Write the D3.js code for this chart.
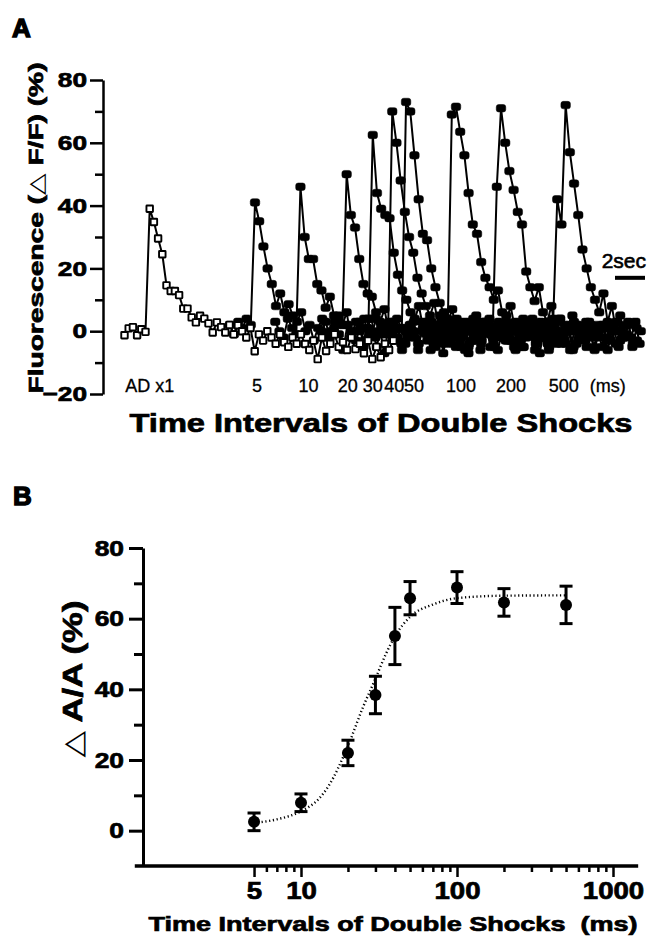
<!DOCTYPE html>
<html>
<head>
<meta charset="utf-8">
<script src="https://cdn.jsdelivr.net/npm/d3@7"></script>
<style>
body { margin: 0; background: #fff; }
text { font-family: "Liberation Sans", Arial, sans-serif; fill: #000; }
.heavy { font-weight: bold; stroke: #000; stroke-width: 0.7px; }
</style>
</head>
<body>
<svg id="chart"></svg>
<script>
// ---- panel A : dF/F traces, one per double shock interval ----
const frameSec = 0.28;
const traceNames = ["AD x1", "5", "10", "20", "30", "40", "50", "100", "200", "500"];
const traceStart = [1.5, 8.52, 11.55, 14.63, 16.37, 17.67, 18.59, 21.64, 24.64, 28.95];

const traceAD = [-1.3, 0.9, 1.3, -1.3, 0.6, -0.2, 39, 34.8, 29.5, 24.5, 14.6, 12.8, 12.8, 11.5, 7.2, 7.2,
  4.4, 2.8, 4.9, 4.0, 2.5, -0.4, 2.8, 1.3, -0.4, 2, -1, 1.9, 0, -2, 1, -6.4, -1, -3, 0, -2, -4, -1,
  -3.5, -5, -2, -4, -1, -4.1, -6, -3, -8.9, -2, -6.3, -4, -1, -5, -3.5, -6, -2, -5.7, -4, -7, -3,
  -8.9, -5, -8.3, -4, -6, -3];
const trace5 = [2, -1, 3, 1, 4, 2, 41, 35, 27, 20, 15, 8, 12, 6, 8.6, 5, 3, 6, 0, 2, -3, 1, 4, -2, 0, 3,
  -1, -6, 2, 0, -3, 1, 4, -2, 0, -5, 2, -1, 3, -3, 1, -6, 0, 2, -2, -4, 1, 3, -1, -5, 0, 2, -3, -1, 4,
  -2, -6, 1, -3, 0];
const trace10 = [3, 0, -2, 4, 1, -1, 46, 30, 23, 23, 15, 13, 7.5, 11, 5, 4, 2, 6, -2, 0, 3, -5, 1, -1, 4,
  0, -7, 2, -2, 1, -4, 0, -2, 3, -4, 0, 1, -6, 2, -1, -3, 4, 0, -5, -2, 1, -7, 2, 0, -3, 3, -1, -4, 1,
  -2, 5, -3, 0, -5, 2];
const trace20 = [0, 3, -2, 1, 5, 2, 50, 37, 33, 23, 15, 12, 11, 6, 3, 7, 0, -3, 4, 1, -4, 2, 0, -6, 3, -1,
  1, -3, 2, -7, 0, 1, 3, -3, 0, -5, 2, -1, -4, 1, 4, -2, -6, 0, 2, -3, 1, -1, -5, 3, 0, -2, -7, 1, -1,
  2, -4, 0];
const trace30 = [2, -1, 3, 0, -3, 4, 62.5, 44, 39, 37, 36, 25, 18, 13, 10, 6, 4, 8, 1, -3, 3, 0, 5, -4, 1,
  -2, 2, -5, 0, 3, -3, 1, -1, 2, -5, 0, 3, -2, -3, 1, -6, 2, 0, -1, 4, -4, 1, -2, -5, 0, 3, -3, 1, -6,
  0, 2, -2, -1];
const trace40 = [1, 4, -2, 0, 2, -1, 70, 60, 48, 38, 30, 25, 17, 12, 8, 5, 9, 2, 0, 4, -4, 1, -2, 3, 0, -3,
  5, -6, 1, 2, -2, 0, 2, -3, 0, -5, 1, 3, -2, -1, -6, 2, 0, -4, 1, -2, 4, -3, 0, -6, 2, -1, -3, 1, -5,
  0, 2, -2];
const trace50 = [-1, 2, 0, 3, -2, 1, 73, 70, 56, 42, 31, 29, 20, 14, 9, 6, 3, 7, -1, 2, 0, -4, 4, 1, -3, 3,
  0, -5, 2, -2, 1, 0, 3, -2, -5, 1, 0, -3, 2, -1, -6, 4, 0, -2, -4, 1, 3, -3, 0, -5, 2, -1, -2, 1, -6,
  0, 3, -3, -1];
const trace100 = [2, 0, -3, 1, 4, -1, 69, 71.5, 63.5, 56, 44, 34, 31, 22, 17, 14, 10, 13, 6, 3, 8, 1, -3, 4,
  0, 2, -4, 1, -2, 3, 0, -3, -4, 2, 0, -5, 1, -2, 3, -1, -6, 0, 2, -3, 1, -4, 0, -2, 3, -5, 1, 0];
const trace200 = [1, -2, 3, 0, 2, -1, 46, 71, 60, 51, 45, 38, 34, 19, 14, 9.6, 14, 6, 3, 8, 0, 4, -3, 2, 5,
  -4, 1, 0, 3, -2, 2, -5, 1, -3, 0, -5, 2, -1, -2, 3, -4];
const trace500 = [0, 3, -2, 1, 2, 42, 34, 72, 57, 47, 37, 26, 20, 14, 10, 6, 12, 3, 8, 0, 5, -2, 2, -4, -3];

const labelNudge = [0, 2, 8, 1, 0, 2, 8, 5, 10, -2];
const yTicksA = [-20, 0, 20, 40, 60, 80];
const yMinorA = [-10, 10, 30, 50, 70];
const scaleBarSec = [34.2, 36.2];

// ---- panel B : peak ratio vs interval ----
const intervals = [5, 10, 20, 30, 40, 50, 100, 200, 500];
const meanResp = [2.5, 7.9, 22.0, 38.4, 55.1, 65.8, 68.8, 64.6, 63.9];
const semResp = [2.5, 2.5, 3.6, 5.3, 8.1, 4.7, 4.5, 3.9, 5.3];
const fitMs = [5, 7, 10, 13, 15, 20, 25, 30, 35, 40, 50, 70, 100, 200, 500];
const fitVal = [2.2, 3.2, 5.5, 9, 12.6, 24, 35, 43, 50, 55, 60.5, 64, 65.8, 66.5, 66.6];
const yTicksB = [0, 20, 40, 60, 80];
const yMinorB = [10, 30, 50, 70];
const xTicksB = [5, 10, 100, 1000];
const xMinorB = [6, 7, 8, 9, 20, 30, 40, 50, 60, 70, 80, 90, 200, 300, 400, 500, 600, 700, 800, 900];

let svg = d3.select("#chart").attr("width", 654).attr("height", 936);

// stretch text horizontally like the scanned figure
function widen(sel, k) {
  sel.each(function () {
    let len = this.getComputedTextLength();
    d3.select(this).attr("textLength", len * k).attr("lengthAdjust", "spacingAndGlyphs");
  });
}

function styleAxis(g, w, size) {
  g.select(".domain").attr("stroke-width", w).attr("stroke", "#000");
  g.selectAll(".tick line").attr("stroke-width", w).attr("stroke", "#000");
  g.selectAll(".tick text").attr("class", "heavy").style("font-size", size + "px")
    .attr("fill", "#000");
}

// ===== A =====
let xA = d3.scaleLinear().domain([0, 36]).range([102, 642]);
let yA = d3.scaleLinear().domain([-20, 80]).range([394, 80]);

svg.append("text").attr("x", 12).attr("y", 37).text("A")
  .style("font-size", "26px").style("font-weight", "bold")
  .attr("stroke", "#000").attr("stroke-width", 1.4);

let axA = svg.append("g").attr("transform", "translate(103,0)")
  .call(d3.axisLeft(yA).tickValues(yTicksA).tickSize(13).tickSizeOuter(0).tickPadding(3));
styleAxis(axA, 2.5, 21);
widen(axA.selectAll(".tick text"), 1.25);

let axAm = svg.append("g").attr("transform", "translate(103,0)")
  .call(d3.axisLeft(yA).tickValues(yMinorA).tickSize(8).tickFormat(""));
axAm.select(".domain").remove();
axAm.selectAll(".tick line").attr("stroke-width", 2.5);

let ylabA = svg.append("text")
  .attr("transform", "translate(43,228) rotate(-90)")
  .attr("text-anchor", "middle").attr("class", "heavy")
  .style("font-size", "21px")
  .attr("textLength", 331).attr("lengthAdjust", "spacingAndGlyphs");
ylabA.append("tspan").text("Fluorescence (");
ylabA.append("tspan").text("\u25B3").style("font-weight", "normal").style("stroke-width", 0)
  .style("font-family", "DejaVu Sans");
ylabA.append("tspan").text(" F/F) (%)");

let traces = [traceAD, trace5, trace10, trace20, trace30, trace40, trace50, trace100, trace200, trace500];
let lineA = d3.line().x(d => xA(d.t)).y(d => yA(d.v));

function drawTrace(k, open) {
  let pts = traces[k].map((v, i) => ({ t: traceStart[k] + i * frameSec, v: v }));
  let g = svg.append("g");
  g.append("path").datum(pts).attr("d", lineA)
    .attr("fill", "none").attr("stroke", "#000").attr("stroke-width", 2);
  let w = open ? 6.5 : 9.5, h = open ? 6.5 : 7.5;
  g.selectAll("rect").data(pts).enter().append("rect")
    .attr("x", d => xA(d.t) - w / 2)
    .attr("y", d => yA(d.v) - h / 2)
    .attr("width", w).attr("height", h)
    .attr("rx", open ? 0.5 : 2.5)
    .attr("fill", open ? "#fff" : "#000")
    .attr("stroke", "#000").attr("stroke-width", open ? 1.9 : 0.5);
}
for (let k = 1; k < traces.length; k++) drawTrace(k, false);
drawTrace(0, true);

// interval labels under each peak
traces.forEach((vals, k) => {
  let p = d3.maxIndex(vals);
  let x = xA(traceStart[k] + p * frameSec) + labelNudge[k];
  svg.append("text").attr("x", x).attr("y", 392)
    .attr("text-anchor", "middle").style("font-size", "18px")
    .attr("stroke", "#000").attr("stroke-width", 0.3)
    .text(traceNames[k]);
  if (k == traces.length - 1) {
    svg.append("text").attr("x", x + 26).attr("y", 392)
      .style("font-size", "18px").attr("stroke", "#000").attr("stroke-width", 0.3)
      .text("(ms)");
  }
});

svg.append("text").attr("x", 381).attr("y", 432).attr("text-anchor", "middle")
  .attr("class", "heavy").style("font-size", "26px")
  .attr("textLength", 503).attr("lengthAdjust", "spacingAndGlyphs")
  .text("Time Intervals of Double Shocks");

// 2 sec scale bar
svg.append("line")
  .attr("x1", xA(scaleBarSec[0])).attr("x2", xA(scaleBarSec[1]))
  .attr("y1", yA(17)).attr("y2", yA(17))
  .attr("stroke", "#000").attr("stroke-width", 4);
svg.append("text").attr("x", xA(scaleBarSec[1]) + 1).attr("y", 268).attr("text-anchor", "end")
  .style("font-size", "21px").attr("stroke", "#000").attr("stroke-width", 0.6)
  .text("2sec");

// ===== B =====
let xB = d3.scaleLog().domain([1, 1000]).range([145, 613]);
let yB = d3.scaleLinear().domain([-10, 80]).range([866, 548]);

svg.append("text").attr("x", 13).attr("y", 505).text("B")
  .style("font-size", "26px").style("font-weight", "bold")
  .attr("stroke", "#000").attr("stroke-width", 1.4);

let axB = svg.append("g").attr("transform", "translate(143,0)")
  .call(d3.axisLeft(yB).tickValues(yTicksB).tickSize(14).tickSizeOuter(0).tickPadding(5));
styleAxis(axB, 3, 22);
widen(axB.selectAll(".tick text"), 1.2);

let axBm = svg.append("g").attr("transform", "translate(143,0)")
  .call(d3.axisLeft(yB).tickValues(yMinorB).tickSize(9).tickFormat(""));
axBm.select(".domain").remove();
axBm.selectAll(".tick line").attr("stroke-width", 3);

svg.append("line")
  .attr("x1", xB(0.86)).attr("x2", xB(1450))
  .attr("y1", yB(-10)).attr("y2", yB(-10))
  .attr("stroke", "#000").attr("stroke-width", 3.5);

let axX = svg.append("g").attr("transform", "translate(0," + yB(-10) + ")")
  .call(d3.axisBottom(xB).tickValues(xTicksB).tickSize(11).tickFormat(d3.format("d")).tickPadding(6));
axX.select(".domain").remove();
styleAxis(axX, 2.5, 23);
widen(axX.selectAll(".tick text"), 1.2);

let axXm = svg.append("g").attr("transform", "translate(0," + yB(-10) + ")")
  .call(d3.axisBottom(xB).tickValues(xMinorB).tickSize(6).tickFormat(""));
axXm.select(".domain").remove();
axXm.selectAll(".tick line").attr("stroke-width", 2.5);

let ylabB = svg.append("text")
  .attr("transform", "translate(82,679) rotate(-90)")
  .attr("text-anchor", "middle").attr("class", "heavy")
  .style("font-size", "27px")
  .attr("textLength", 157).attr("lengthAdjust", "spacingAndGlyphs");
ylabB.append("tspan").text("\u25B3").style("font-weight", "normal").style("stroke-width", 0)
  .style("font-family", "DejaVu Sans");
ylabB.append("tspan").text(" A/A (%)");

svg.append("text").attr("x", 393).attr("y", 931).attr("text-anchor", "middle")
  .attr("class", "heavy").style("font-size", "21px").style("white-space", "pre")
  .attr("textLength", 489).attr("lengthAdjust", "spacingAndGlyphs")
  .text("Time Intervals of Double Shocks  (ms)");

// fitted curve (dotted)
let fitPts = fitMs.map((m, i) => ({ m: m, v: fitVal[i] }));
svg.append("path").datum(fitPts)
  .attr("d", d3.line().x(d => xB(d.m)).y(d => yB(d.v)).curve(d3.curveMonotoneX))
  .attr("fill", "none").attr("stroke", "#000").attr("stroke-width", 2.4)
  .attr("stroke-dasharray", "1.2 2.6");

let pts = intervals.map((m, i) => ({ m: m, v: meanResp[i], e: semResp[i] }));
let gB = svg.append("g");
gB.selectAll(".err").data(pts).enter().append("line")
  .attr("x1", d => xB(d.m)).attr("x2", d => xB(d.m))
  .attr("y1", d => yB(d.v - d.e)).attr("y2", d => yB(d.v + d.e))
  .attr("stroke", "#000").attr("stroke-width", 3);
[1, -1].forEach(s => {
  gB.selectAll(".cap" + s).data(pts).enter().append("line")
    .attr("x1", d => xB(d.m) - 6.5).attr("x2", d => xB(d.m) + 6.5)
    .attr("y1", d => yB(d.v + s * d.e)).attr("y2", d => yB(d.v + s * d.e))
    .attr("stroke", "#000").attr("stroke-width", 3);
});
gB.selectAll("circle").data(pts).enter().append("circle")
  .attr("cx", d => xB(d.m)).attr("cy", d => yB(d.v)).attr("r", 6)
  .attr("fill", "#000");
</script>
</body>
</html>
